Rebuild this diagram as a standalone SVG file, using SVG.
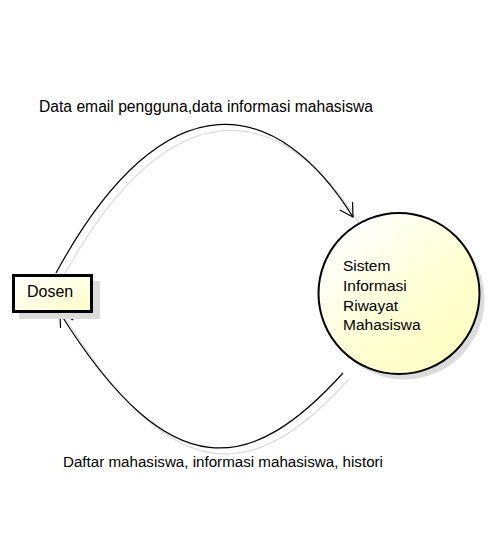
<svg xmlns="http://www.w3.org/2000/svg" width="489" height="548" viewBox="0 0 489 548">
  <defs>
    <linearGradient id="fillBox" x1="0" y1="0" x2="1" y2="1">
      <stop offset="0" stop-color="#ffffff"/>
      <stop offset="1" stop-color="#ffffc8"/>
    </linearGradient>
    <linearGradient id="fillCircle" x1="0.15" y1="0.1" x2="0.85" y2="0.9">
      <stop offset="0" stop-color="#ffffff"/>
      <stop offset="0.6" stop-color="#ffffd2"/>
      <stop offset="1" stop-color="#ffffc4"/>
    </linearGradient>
    <marker id="openArrow" markerUnits="userSpaceOnUse" markerWidth="20" markerHeight="20" viewBox="-15 -10 20 20" refX="0" refY="0" orient="auto" overflow="visible">
      <path d="M-13,-7.5 L0,0 L-13,7.5" fill="none" stroke="#000" stroke-width="1.2"/>
    </marker>
  </defs>
  <style>
    .label { font-family: "Liberation Sans", Arial, sans-serif; fill: #000; }
    .flow { fill: none; stroke: #000; stroke-width: 1.2; }
    .flow-shadow { fill: none; stroke: #dcdcdc; stroke-width: 1.2; }
    .shadow { fill: #dcdcdc; stroke: none; }
  </style>
  <rect width="489" height="548" fill="#ffffff"/>

  <!-- connectors -->
  <g id="connectors">
    <g transform="translate(6,6)">
      <path class="flow-shadow" d="M56,273 C166,71 279,98 353,217"/>
      <path class="flow-shadow" d="M343,373 C252.5,472.9 171.3,491.5 60,313"/>
    </g>
    <path class="flow" d="M56,273 C166,71 279,98 353,217" marker-end="url(#openArrow)"/>
    <path class="flow" d="M343,373 C252.5,472.9 171.3,491.5 60,313" marker-end="url(#openArrow)"/>
    <text class="label" x="39" y="112" font-size="16" textLength="334" lengthAdjust="spacingAndGlyphs">Data email pengguna,data informasi mahasiswa</text>
    <text class="label" x="63" y="467" font-size="15.5" textLength="320" lengthAdjust="spacingAndGlyphs">Daftar mahasiswa, informasi mahasiswa, histori</text>
  </g>

  <!-- external entity -->
  <g id="dosen">
    <rect class="shadow" x="19" y="281" width="81" height="38"/>
    <rect x="13.5" y="275.5" width="78" height="36" fill="url(#fillBox)" stroke="#000" stroke-width="3"/>
    <text class="label" x="27" y="297" font-size="16">Dosen</text>
  </g>

  <!-- process -->
  <g id="sistem">
    <circle class="shadow" cx="404" cy="299" r="80.5"/>
    <circle cx="399" cy="293.5" r="80.5" fill="url(#fillCircle)" stroke="#000" stroke-width="2"/>
    <text class="label" font-size="15.5">
      <tspan x="343" y="271">Sistem</tspan>
      <tspan x="343" y="291">Informasi</tspan>
      <tspan x="343" y="311">Riwayat</tspan>
      <tspan x="343" y="330">Mahasiswa</tspan>
    </text>
  </g>
</svg>
